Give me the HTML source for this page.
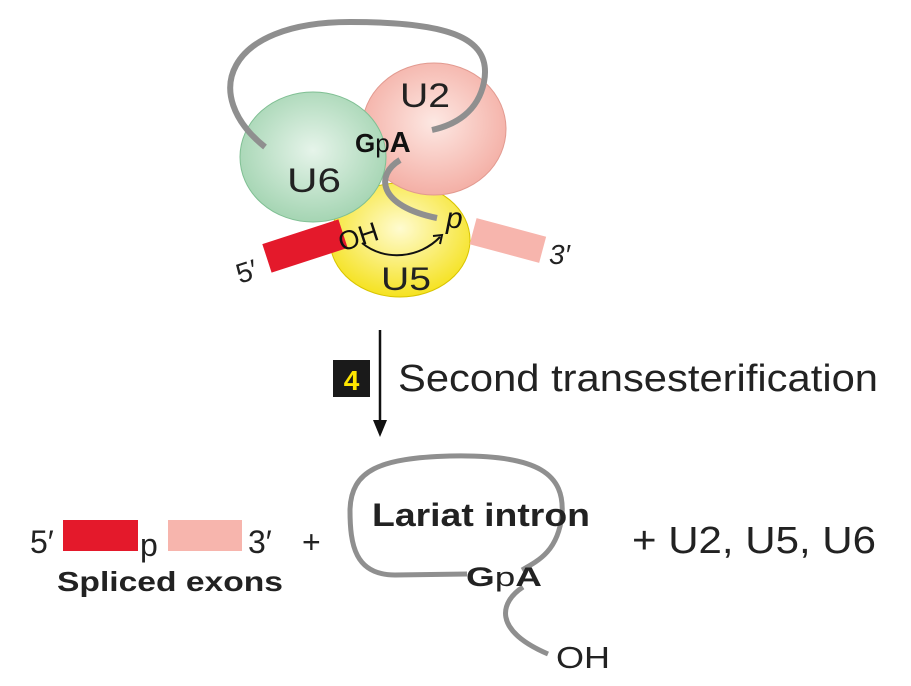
<!DOCTYPE html>
<html><head><meta charset="utf-8"><style>
html,body{margin:0;padding:0;background:#fff;}
svg{display:block;}
text{font-family:"Liberation Sans",sans-serif;}
</style></head><body>
<svg width="911" height="686" viewBox="0 0 911 686" xmlns="http://www.w3.org/2000/svg">
<defs>
<radialGradient id="g6" cx="0.5" cy="0.45" r="0.6"><stop offset="0" stop-color="#e6f4ea"/><stop offset="1" stop-color="#9fd2ae"/></radialGradient>
<radialGradient id="g2" cx="0.5" cy="0.45" r="0.6"><stop offset="0" stop-color="#fde8e3"/><stop offset="1" stop-color="#f3aaa0"/></radialGradient>
<radialGradient id="g5" cx="0.5" cy="0.4" r="0.6"><stop offset="0" stop-color="#fffbd0"/><stop offset="1" stop-color="#f5e220"/></radialGradient>
</defs>
<ellipse cx="400" cy="240" rx="70" ry="57" fill="url(#g5)" stroke="#d8c400" stroke-width="1"/>
<ellipse cx="434" cy="129" rx="72" ry="66" fill="url(#g2)" stroke="#e29a90" stroke-width="1"/>
<ellipse cx="313" cy="157" rx="73" ry="65" fill="url(#g6)" stroke="#7fbf93" stroke-width="1"/>
<path d="M265,147 C200,95 225,22 350,22 C455,22 492,40 484,82 C478,112 455,125 432,130" fill="none" stroke="#8f8f8f" stroke-width="6"/>
<path d="M400,160 C375,175 378,206 437,218" fill="none" stroke="#8f8f8f" stroke-width="6"/>
<g transform="rotate(-18 305 246)"><rect x="265" y="231" width="80" height="30" fill="#e4192b"/></g>
<g transform="rotate(15 508 240)"><rect x="472" y="227" width="72" height="27" fill="#f7b5ad"/></g>
<text x="400" y="107" font-size="34" fill="#222" textLength="50" lengthAdjust="spacingAndGlyphs">U2</text>
<text x="355" y="152" font-size="26" font-weight="bold" fill="#111">G<tspan font-weight="normal">p</tspan><tspan font-size="29">A</tspan></text>
<text x="287" y="192" font-size="34" fill="#222" textLength="54" lengthAdjust="spacingAndGlyphs">U6</text>
<text x="338" y="247" font-size="27" fill="#111" transform="rotate(-18 355 237)">OH</text>
<text x="446" y="228" font-size="30" font-style="italic" fill="#111">p</text>
<path d="M362,243 C385,262 420,258 440,237" fill="none" stroke="#111" stroke-width="2"/>
<path d="M433,236 L442,235 L440,244" fill="none" stroke="#111" stroke-width="2"/>
<text x="381" y="290" font-size="32" fill="#222" textLength="50" lengthAdjust="spacingAndGlyphs">U5</text>
<text x="236" y="280" font-size="28" fill="#222" transform="rotate(-18 250 270)">5′</text>
<text x="549" y="264" font-size="28" font-style="italic" fill="#222">3′</text>
<line x1="380" y1="330" x2="380" y2="425" stroke="#111" stroke-width="2.5"/>
<path d="M373,420 L380,437 L387,420 Z" fill="#111"/>
<rect x="333" y="360" width="37" height="37" fill="#1a1a1a"/>
<text x="351.5" y="390" font-size="28" font-weight="bold" fill="#ffe600" text-anchor="middle">4</text>
<text x="398" y="391" font-size="38" fill="#222" textLength="480" lengthAdjust="spacingAndGlyphs">Second transesterification</text>
<text x="30" y="553" font-size="32" fill="#222">5′</text>
<rect x="63" y="520" width="75" height="31" fill="#e4192b"/>
<text x="140" y="556" font-size="32" fill="#222">p</text>
<rect x="168" y="520" width="74" height="31" fill="#f7b5ad"/>
<text x="248" y="553" font-size="32" fill="#222">3′</text>
<text x="302" y="553" font-size="32" fill="#222">+</text>
<text x="57" y="591" font-size="28" font-weight="bold" fill="#222" textLength="226" lengthAdjust="spacingAndGlyphs">Spliced exons</text>
<path d="M467,574 L395,575 C355,575 350,545 350,510 C351,470 380,458 450,456 C540,454 565,475 562,515 C558,550 540,560 522,570" fill="none" stroke="#8f8f8f" stroke-width="5"/>
<path d="M523,587 C500,602 492,630 548,654" fill="none" stroke="#8f8f8f" stroke-width="5"/>
<text x="372" y="526" font-size="32" font-weight="bold" fill="#222" textLength="218" lengthAdjust="spacingAndGlyphs">Lariat intron</text>
<text x="466" y="586" font-size="27" font-weight="bold" fill="#222" textLength="76" lengthAdjust="spacingAndGlyphs">G<tspan font-weight="normal">p</tspan>A</text>
<text x="556" y="668" font-size="31" fill="#222" textLength="54" lengthAdjust="spacingAndGlyphs">OH</text>
<text x="632" y="553" font-size="38" fill="#222" textLength="244" lengthAdjust="spacingAndGlyphs">+ U2, U5, U6</text>
</svg>
</body></html>
